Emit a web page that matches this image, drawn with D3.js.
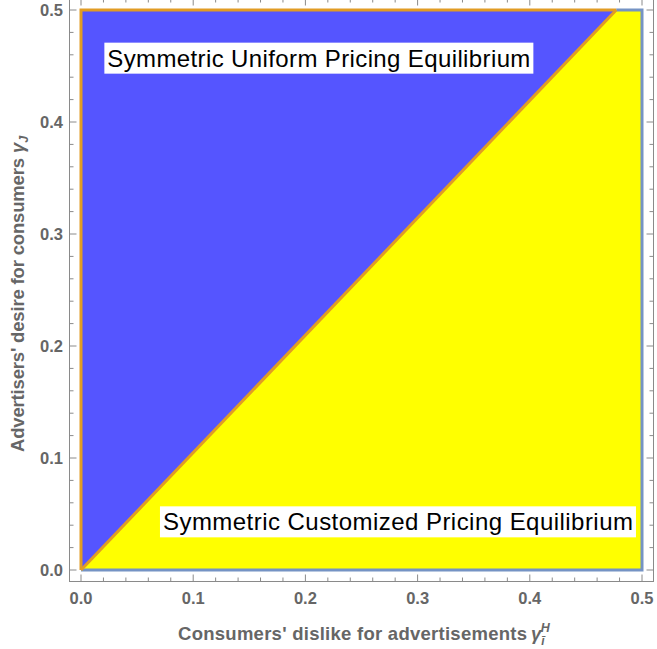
<!DOCTYPE html>
<html>
<head>
<meta charset="utf-8">
<script src="https://cdn.jsdelivr.net/npm/d3@7"></script>
<style>
  body { margin: 0; background: #fff; }
  svg { display: block; }
  text { font-family: 'Liberation Sans', Arial, sans-serif; }
</style>
</head>
<body>
<div id="chart"></div>
<script>
// chart values
const xTicks = [0, 0.1, 0.2, 0.3, 0.4, 0.5];
const yTicks = [0, 0.1, 0.2, 0.3, 0.4, 0.5];
const minorStep = 0.02;
// boundary between the two equilibria (gamma_J vs gamma_i^H)
const boundaryX = [0, 0.477];
const boundaryY = [0, 0.5];
const uniformRegion = [[0, 0], [0, 0.5], [0.477, 0.5]];
const customRegion = [[0, 0], [0.477, 0.5], [0.5, 0.5], [0.5, 0]];
const regionNames = ["Symmetric Uniform Pricing Equilibrium", "Symmetric Customized Pricing Equilibrium"];
const regionLabelPos = [[0.212, 0.457], [0.2825, 0.043]];

var width = 657, height = 649;

var x = d3.scaleLinear().domain([0, 0.5]).range([81, 642]);
var y = d3.scaleLinear().domain([0, 0.5]).range([570, 10]);

var svg = d3.select("#chart")
  .append("svg")
  .attr("width", width)
  .attr("height", height);

var line = d3.line().x(d => x(d[0])).y(d => y(d[1]));

// regions
svg.append("path")
  .attr("d", line(uniformRegion) + "Z")
  .style("fill", "#5555ff");
svg.append("path")
  .attr("d", line(customRegion) + "Z")
  .style("fill", "#ffff00");

// region borders
svg.append("path")
  .attr("d", line([[0.477, 0.5], [0.5, 0.5], [0.5, 0], [0, 0]]))
  .style("fill", "none")
  .style("stroke", "#7593c4")
  .style("stroke-width", 3);
svg.append("path")
  .attr("d", line([[0, 0], [0, 0.5], [0.477, 0.5]]))
  .style("fill", "none")
  .style("stroke", "#e19c24")
  .style("stroke-width", 3);
svg.append("path")
  .attr("d", line(boundaryX.map((v, i) => [v, boundaryY[i]])))
  .style("fill", "none")
  .style("stroke", "#e19c24")
  .style("stroke-width", 3);

// frame
var pad = 11.5;
var fx0 = x(0) - pad, fx1 = x(0.5) + pad, fy0 = y(0.5) - pad, fy1 = y(0) + pad;
svg.append("rect")
  .attr("x", fx0).attr("y", fy0)
  .attr("width", fx1 - fx0).attr("height", fy1 - fy0)
  .style("fill", "none")
  .style("stroke", "#8a8a8a")
  .style("stroke-width", 1);

// ticks, pointing inward
var minor = d3.range(0, 0.5 + 1e-9, minorStep);
var tg = svg.append("g").style("stroke", "#8a8a8a").style("stroke-width", 1);
minor.forEach(function(v) {
  var major = Math.abs(v * 10 - Math.round(v * 10)) < 1e-6;
  var len = major ? 7 : 4;
  tg.append("line").attr("x1", x(v)).attr("x2", x(v)).attr("y1", fy1).attr("y2", fy1 - len);
  tg.append("line").attr("x1", x(v)).attr("x2", x(v)).attr("y1", fy0).attr("y2", fy0 + len);
  tg.append("line").attr("y1", y(v)).attr("y2", y(v)).attr("x1", fx0).attr("x2", fx0 + len);
  tg.append("line").attr("y1", y(v)).attr("y2", y(v)).attr("x1", fx1).attr("x2", fx1 - len);
});

// tick labels
svg.append("g")
  .selectAll("text")
  .data(xTicks)
  .enter()
  .append("text")
  .attr("x", d => x(d))
  .attr("y", 604)
  .attr("text-anchor", "middle")
  .style("font-weight", "bold")
  .style("font-size", "16.5px")
  .style("fill", "#666")
  .text(d => d.toFixed(1));

svg.append("g")
  .selectAll("text")
  .data(yTicks)
  .enter()
  .append("text")
  .attr("x", 63)
  .attr("y", d => y(d) + 6)
  .attr("text-anchor", "end")
  .style("font-weight", "bold")
  .style("font-size", "16.5px")
  .style("fill", "#666")
  .text(d => d.toFixed(1));

// axis labels
svg.append("text")
  .attr("x", 178)
  .attr("y", 640)
  .attr("textLength", 349)
  .attr("lengthAdjust", "spacing")
  .style("font-weight", "bold")
  .style("font-size", "18.5px")
  .style("fill", "#666")
  .text("Consumers' dislike for advertisements");
var xg = svg.append("text")
  .attr("x", 531)
  .attr("y", 640)
  .style("font-weight", "bold")
  .style("font-size", "18.5px")
  .style("fill", "#666");
xg.append("tspan").style("font-style", "italic").text("γ");
xg.append("tspan").attr("dy", 5).style("font-style", "italic").style("font-size", "12px").text("ī");
xg.append("tspan").attr("dx", -4).attr("dy", -13).style("font-style", "italic").style("font-size", "12.5px").text("H");

svg.append("text")
  .attr("transform", "translate(24,452) rotate(-90)")
  .attr("textLength", 294)
  .attr("lengthAdjust", "spacing")
  .style("font-weight", "bold")
  .style("font-size", "18.5px")
  .style("fill", "#666")
  .text("Advertisers' desire for consumers");
var yg = svg.append("text")
  .attr("transform", "translate(24,153) rotate(-90)")
  .style("font-weight", "bold")
  .style("font-size", "18.5px")
  .style("fill", "#666");
yg.append("tspan").style("font-style", "italic").text("γ");
yg.append("tspan").attr("dy", 4).style("font-style", "italic").style("font-size", "12.5px").text("J");

// region labels with white boxes
var labelWidths = [423, 470];
regionNames.forEach(function(name, i) {
  var cx = x(regionLabelPos[i][0]), cy = y(regionLabelPos[i][1]);
  var g = svg.append("g");
  g.append("rect")
    .attr("x", cx - labelWidths[i] / 2 - 3).attr("y", cy - 15.5)
    .attr("width", labelWidths[i] + 6).attr("height", 31)
    .style("fill", "#fff");
  g.append("text")
    .attr("x", cx - labelWidths[i] / 2)
    .attr("y", cy + 8.5)
    .attr("textLength", labelWidths[i])
    .attr("lengthAdjust", "spacing")
    .style("font-size", "24px")
    .style("fill", "#000")
    .text(name);
});
</script>
</body>
</html>
